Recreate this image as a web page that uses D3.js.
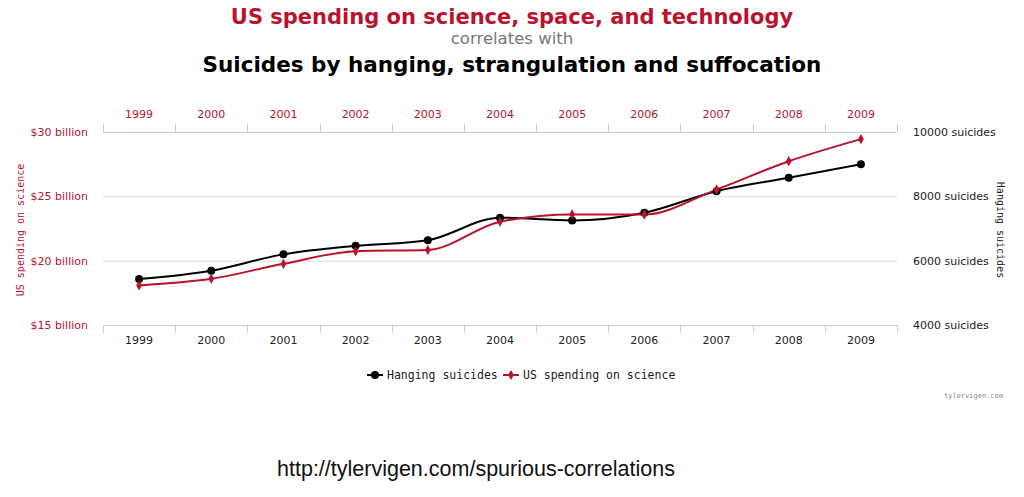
<!DOCTYPE html>
<html>
<head>
<meta charset="utf-8">
<script src="https://cdnjs.cloudflare.com/ajax/libs/d3/7.8.5/d3.min.js"></script>
<style>
body { margin: 0; background: #fff; }
svg text { font-family: "DejaVu Sans", Verdana, sans-serif; }
</style>
</head>
<body>
<svg id="chart" width="1024" height="497"></svg>
<script>
var years = ["1999","2000","2001","2002","2003","2004","2005","2006","2007","2008","2009"];
var hanging = [5427, 5688, 6198, 6462, 6635, 7336, 7248, 7491, 8161, 8578, 9000];
var spending = [18.079, 18.594, 19.753, 20.734, 20.831, 23.029, 23.597, 23.584, 25.525, 27.731, 29.449];
var spendTicks = [15, 20, 25, 30];
var hangTicks = [4000, 6000, 8000, 10000];

var red = "#b9132f", black = "#000";
var svg = d3.select("#chart");
var pLeft = 103, pRight = 897, pTop = 132, pBottom = 325;

var x = d3.scaleBand().domain(years).range([pLeft, pRight]);
var yS = d3.scaleLinear().domain([15, 30]).range([pBottom, pTop]);
var yH = d3.scaleLinear().domain([4000, 10000]).range([pBottom, pTop]);

// titles
svg.append("text").attr("x", 512).attr("y", 24).attr("text-anchor", "middle")
    .style("font-size", "21px").style("font-weight", "bold").attr("fill", red)
    .text("US spending on science, space, and technology");
svg.append("text").attr("x", 512).attr("y", 44).attr("text-anchor", "middle")
    .style("font-size", "16.5px").attr("fill", "#777")
    .text("correlates with");
svg.append("text").attr("x", 512).attr("y", 72).attr("text-anchor", "middle")
    .style("font-size", "21.5px").style("font-weight", "bold").attr("fill", black)
    .text("Suicides by hanging, strangulation and suffocation");

// grid
svg.append("g").selectAll("line").data(spendTicks).enter().append("line")
    .attr("x1", pLeft).attr("x2", pRight)
    .attr("y1", function(d) { return yS(d) + 0.5; })
    .attr("y2", function(d) { return yS(d) + 0.5; })
    .attr("stroke", "#d8dde6").attr("stroke-width", 1);

// bottom and top axes
var edges = years.map(function(d) { return x(d); }).concat([pRight]);
function axisLine(y, dir) {
    var g = svg.append("g");
    g.append("line").attr("x1", pLeft).attr("x2", pRight).attr("y1", y + 0.5).attr("y2", y + 0.5)
        .attr("stroke", "#c0d0e0");
    g.selectAll("line.tick").data(edges).enter().append("line").attr("class", "tick")
        .attr("x1", function(d) { return Math.round(d) + 0.5; })
        .attr("x2", function(d) { return Math.round(d) + 0.5; })
        .attr("y1", y).attr("y2", y + dir * 8)
        .attr("stroke", "#c0d0e0");
}
axisLine(pBottom, 1);
axisLine(pTop, -1);

svg.append("g").selectAll("text").data(years).enter().append("text")
    .attr("x", function(d) { return x(d) + x.bandwidth() / 2; })
    .attr("y", pBottom + 19).attr("text-anchor", "middle")
    .style("font-size", "11px").attr("fill", "#222").text(function(d) { return d; });
svg.append("g").selectAll("text").data(years).enter().append("text")
    .attr("x", function(d) { return x(d) + x.bandwidth() / 2; })
    .attr("y", pTop - 14).attr("text-anchor", "middle")
    .style("font-size", "11px").attr("fill", red).text(function(d) { return d; });

// left axis labels
svg.append("g").selectAll("text").data(spendTicks).enter().append("text")
    .attr("x", 88).attr("y", function(d) { return yS(d) + 4; }).attr("text-anchor", "end")
    .style("font-size", "11px").attr("fill", red)
    .text(function(d) { return "$" + d + " billion"; });
svg.append("text").attr("transform", "translate(24,230) rotate(-90)").attr("text-anchor", "middle")
    .style("font-size", "10px").style("font-family", "'DejaVu Sans Mono', monospace")
    .attr("fill", red).text("US spending on science");

// right axis labels
svg.append("g").selectAll("text").data(hangTicks).enter().append("text")
    .attr("x", 913).attr("y", function(d) { return yH(d) + 4; })
    .style("font-size", "11px").attr("fill", "#222")
    .text(function(d) { return d + " suicides"; });
svg.append("text").attr("transform", "translate(997,230) rotate(90)").attr("text-anchor", "middle")
    .style("font-size", "10px").style("font-family", "'DejaVu Sans Mono', monospace")
    .attr("fill", "#222").text("Hanging suicides");

// lines
var cx = function(d, i) { return x(years[i]) + x.bandwidth() / 2; };
var lineH = d3.line().x(cx).y(function(d) { return yH(d); }).curve(d3.curveMonotoneX);
var lineS = d3.line().x(cx).y(function(d) { return yS(d); }).curve(d3.curveMonotoneX);

svg.append("path").attr("d", lineH(hanging)).attr("fill", "none").attr("stroke", black).attr("stroke-width", 2);
svg.append("path").attr("d", lineS(spending)).attr("fill", "none").attr("stroke", red).attr("stroke-width", 2);

svg.append("g").selectAll("circle").data(hanging).enter().append("circle")
    .attr("cx", cx).attr("cy", function(d) { return yH(d); }).attr("r", 4).attr("fill", black);
var diamond = d3.symbol().type(d3.symbolDiamond).size(30);
svg.append("g").selectAll("path").data(spending).enter().append("path")
    .attr("d", diamond)
    .attr("transform", function(d, i) { return "translate(" + cx(d, i) + "," + yS(d) + ")"; })
    .attr("fill", red);

// legend
var lg = svg.append("g").attr("transform", "translate(367,375)");
lg.append("line").attr("x1", 0).attr("x2", 16).attr("stroke", black).attr("stroke-width", 2);
lg.append("circle").attr("cx", 8).attr("r", 4).attr("fill", black);
lg.append("text").attr("x", 20).attr("y", 4).style("font-size", "11.5px")
    .style("font-family", "'DejaVu Sans Mono', monospace").attr("fill", "#222").text("Hanging suicides");
lg.append("line").attr("x1", 136).attr("x2", 152).attr("stroke", red).attr("stroke-width", 2);
lg.append("path").attr("d", diamond).attr("transform", "translate(144,0)").attr("fill", red);
lg.append("text").attr("x", 156).attr("y", 4).style("font-size", "11.5px")
    .style("font-family", "'DejaVu Sans Mono', monospace").attr("fill", "#222").text("US spending on science");

svg.append("text").attr("x", 1003).attr("y", 398).attr("text-anchor", "end")
    .style("font-size", "7px").style("font-family", "'DejaVu Sans Mono', monospace")
    .attr("fill", "#888").text("tylervigen.com");

svg.append("text").attr("x", 476).attr("y", 476).attr("text-anchor", "middle")
    .style("font-size", "21.5px").style("font-family", "'Liberation Sans', 'Open Sans', sans-serif")
    .attr("fill", "#111").text("http://tylervigen.com/spurious-correlations");
</script>
</body>
</html>
